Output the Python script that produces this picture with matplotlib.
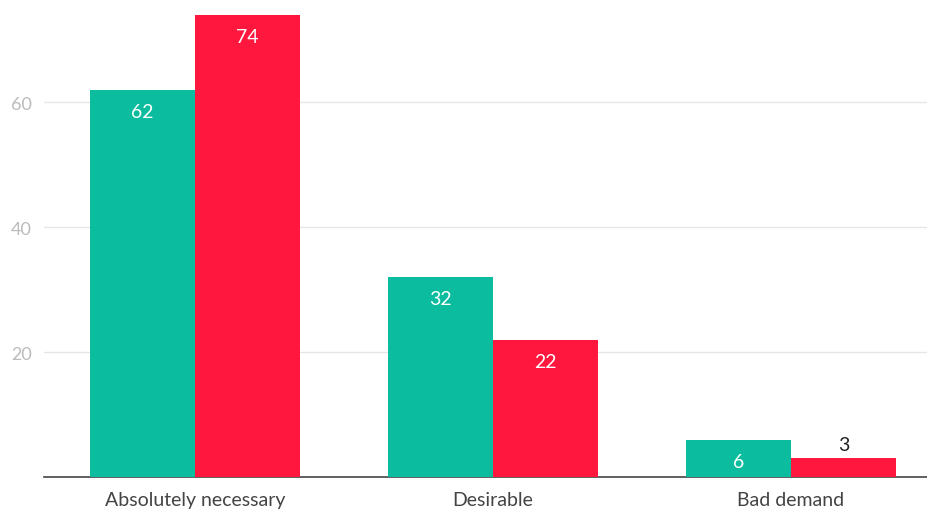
import numpy as np
import matplotlib.pyplot as plt

plt.rcParams['font.family'] = ['Lato', 'DejaVu Sans']

categories = ['Absolutely necessary', 'Desirable', 'Bad demand']
series_a = [62, 32, 6]
series_b = [74, 22, 3]
yticks = [20, 40, 60]

teal = '#0bbc9e'
red = '#ff173d'

fig = plt.figure(figsize=(9.28, 5.10), dpi=100)
ax = fig.add_axes([44/928, 32/510, 884/928, 478/510])

x = np.arange(len(categories))
w = 0.352
bars_a = ax.bar(x - w/2, series_a, w, color=teal, zorder=3)
bars_b = ax.bar(x + w/2, series_b, w, color=red, zorder=3)

for bars in (bars_a, bars_b):
    for b in bars:
        v = b.get_height()
        cx = b.get_x() + b.get_width()/2
        if v >= 5:
            ax.annotate(str(int(v)), (cx, v), xytext=(0, -15.5), textcoords='offset points',
                        ha='center', va='center', color='white', fontsize=14, zorder=4)
        else:
            ax.annotate(str(int(v)), (cx, v), xytext=(0, 10), textcoords='offset points',
                        ha='center', va='center', color='#222222', fontsize=14, zorder=4)

ax.set_xlim(-0.507, 2.46)
ax.set_ylim(0, 76.5)
ax.set_yticks(yticks)
ax.set_xticks(x)
ax.set_xticklabels(categories, fontsize=14, color='#444444')
ax.tick_params(axis='y', length=0, labelsize=13, labelcolor='#bbbbbb', pad=9)
ax.tick_params(axis='x', length=0, pad=10)
ax.grid(axis='y', color='#e6e6e6', linewidth=1, zorder=0)
for s in ['top', 'right', 'left']:
    ax.spines[s].set_visible(False)
ax.spines['bottom'].set_color('#444444')
ax.spines['bottom'].set_linewidth(1.2)

fig.savefig('out.png', dpi=100)
